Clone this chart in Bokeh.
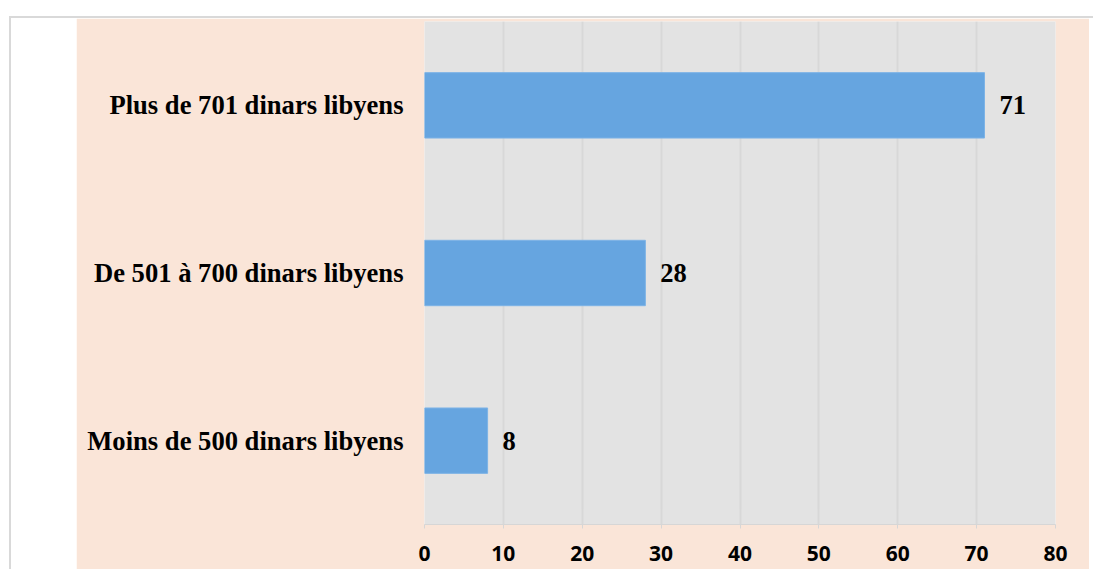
from bokeh.plotting import figure
from bokeh.models import ColumnDataSource, FactorRange, Range1d, FixedTicker, Spacer
from bokeh.layouts import row
from bokeh.core.properties import value
from bokeh.embed import file_html
from bokeh.resources import INLINE

categories = ["Moins de 500 dinars libyens", "De 501 à 700 dinars libyens", "Plus de 701 dinars libyens"]
values = [8, 28, 71]
ticks = [0, 10, 20, 30, 40, 50, 60, 70, 80]

src = ColumnDataSource(dict(cat=categories, val=values, lab=[str(v) for v in values]))

p = figure(y_range=FactorRange(*categories), x_range=Range1d(0, 80),
           width=1013, height=551, output_backend="svg", toolbar_location=None,
           min_border_left=348, min_border_right=34, min_border_top=3, min_border_bottom=45)
p.background_fill_color = "#e3e3e3"
p.border_fill_color = "#fae5d8"
p.outline_line_color = None

p.hbar(y="cat", right="val", left=0, height=0.39, source=src,
       fill_color="#66a5e0", line_color="#7db3e6", line_width=1)
p.text(x="val", y="cat", text="lab", source=src, x_offset=15,
       text_baseline="middle", text_align="left",
       text_font=value("Liberation Serif"), text_font_style="bold",
       text_font_size="26.5px", text_color="#000000")

p.xaxis.ticker = FixedTicker(ticks=ticks)
p.xaxis.axis_line_color = "#d6d6d6"
p.xaxis.major_tick_line_color = "#d6d6d6"
p.xaxis.major_tick_out = 4
p.xaxis.major_tick_in = 0
p.xaxis.minor_tick_line_color = None
p.xaxis.major_label_text_font = "Open Sans"
p.xaxis.major_label_text_font_style = "bold"
p.xaxis.major_label_text_font_size = "21px"
p.xaxis.major_label_text_color = "#000000"
p.xaxis.major_label_standoff = 17

p.yaxis.axis_line_color = None
p.yaxis.major_tick_line_color = None
p.yaxis.major_tick_out = 0
p.yaxis.major_tick_in = 0
p.yaxis.minor_tick_line_color = None
p.yaxis.major_label_text_font = "Liberation Serif"
p.yaxis.major_label_text_font_style = "bold"
p.yaxis.major_label_text_font_size = "26.6px"
p.yaxis.major_label_text_color = "#000000"
p.yaxis.major_label_standoff = 21

p.xgrid.ticker = FixedTicker(ticks=ticks)
p.xgrid.grid_line_color = "#d8d8d8"
p.xgrid.grid_line_width = 2
p.ygrid.grid_line_color = None

left = Spacer(width=65, height=551, styles={"background-color": "white"})
right = Spacer(width=4, height=551, styles={"background-color": "white"})
lay = row(left, p, right, margin=(16, 0, 0, 9),
          styles={"border-top": "2px solid #d9d9d9", "border-left": "2px solid #d9d9d9",
                  "background-color": "white"})

open("out.html", "w").write(file_html(lay, INLINE))
